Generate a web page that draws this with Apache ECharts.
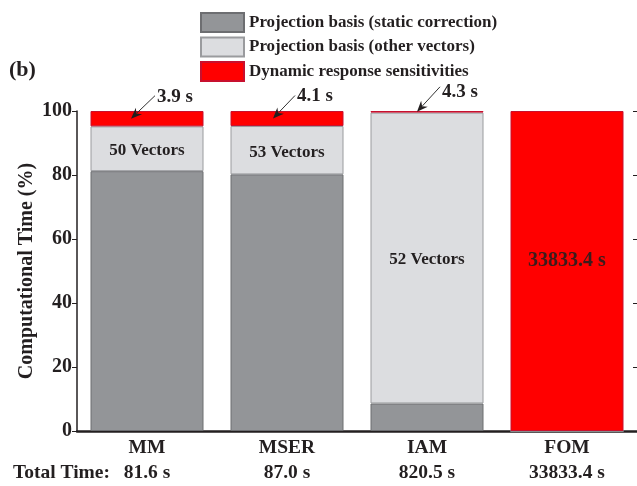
<!DOCTYPE html>
<html>
<head>
<meta charset="utf-8">
<script src="https://cdn.jsdelivr.net/npm/echarts@6/dist/echarts.min.js"></script>
<style>
  html, body { margin: 0; padding: 0; background: #fff; }
  #chart { width: 637px; height: 486px; }
</style>
</head>
<body>
<div id="chart"></div>
<script>
// Share of computational time per method (%)
const methods = ['MM', 'MSER', 'IAM', 'FOM'];
const totalTimes = ['81.6 s', '87.0 s', '820.5 s', '33833.4 s'];
const staticPct = [81.2, 80.2, 8.6, 0];
const otherPct = [14.0, 15.1, 90.9, 0];
const dynamicPct = [4.8, 4.7, 0.5, 100];
const vectorLabels = ['50 Vectors', '53 Vectors', '52 Vectors', ''];
const dynamicLabels = ['3.9 s', '4.1 s', '4.3 s', '33833.4 s'];
const yTicks = [0, 20, 40, 60, 80, 100];

const FONT = '"Liberation Serif", "Times New Roman", serif';
const INK = '#231f20';

const chart = echarts.init(document.getElementById('chart'), null, { renderer: 'canvas' });

const option = {
  animation: false,
  backgroundColor: '#ffffff',
  textStyle: { fontFamily: FONT, fontWeight: 'bold', color: INK },
  legend: {
    orient: 'vertical',
    left: 200,
    top: 12,
    padding: 0,
    icon: 'rect',
    itemWidth: 43,
    itemHeight: 19,
    itemGap: 3.5,
    textStyle: { fontFamily: FONT, fontWeight: 'bold', fontSize: 17, lineHeight: 19, color: INK },
    data: ['Projection basis (static correction)', 'Projection basis (other vectors)', 'Dynamic response sensitivities']
  },
  grid: { left: 77, top: 111, width: 562, height: 320, containLabel: false },
  xAxis: [
    {
      type: 'category',
      data: methods,
      position: 'bottom',
      axisLine: { lineStyle: { color: INK, width: 2.5 } },
      axisTick: { show: false },
      axisLabel: {
        margin: 4,
        interval: 0,
        formatter: function (v, i) { return '{n|' + v + '}\n{t|' + totalTimes[i] + '}'; },
        rich: {
          n: { fontFamily: FONT, fontWeight: 'bold', fontSize: 19.5, color: INK, lineHeight: 25 },
          t: { fontFamily: FONT, fontWeight: 'bold', fontSize: 19.5, color: INK, lineHeight: 25 }
        }
      }
    },
    {
      type: 'category',
      data: methods,
      position: 'top',
      axisLine: { lineStyle: { color: INK, width: 1.2 } },
      axisTick: { show: false },
      axisLabel: { show: false }
    }
  ],
  yAxis: [
    {
      type: 'value',
      min: yTicks[0],
      max: yTicks[yTicks.length - 1],
      interval: 20,
      position: 'left',
      name: 'Computational Time (%)',
      nameLocation: 'middle',
      nameGap: 40,
      nameMoveOverlap: false,
      nameTextStyle: { fontFamily: FONT, fontWeight: 'bold', fontSize: 20, color: INK },
      axisLine: { show: true, lineStyle: { color: INK, width: 1.5 } },
      axisTick: { show: true, length: 5, lineStyle: { color: INK, width: 1 } },
      axisLabel: { margin: 5, fontFamily: FONT, fontWeight: 'bold', fontSize: 20, color: INK },
      splitLine: { show: false }
    },
    {
      type: 'value',
      min: yTicks[0],
      max: yTicks[yTicks.length - 1],
      interval: 20,
      position: 'right',
      axisLine: { show: false },
      axisTick: { show: true, inside: true, length: 4, lineStyle: { color: INK, width: 1 } },
      axisLabel: { show: false },
      splitLine: { show: false }
    }
  ],
  series: [
    {
      name: 'Projection basis (static correction)',
      type: 'bar',
      stack: 'time',
      barWidth: 113,
      data: staticPct,
      itemStyle: { color: '#939598', borderColor: '#6d6e71', borderWidth: 1 }
    },
    {
      name: 'Projection basis (other vectors)',
      type: 'bar',
      stack: 'time',
      barWidth: 113,
      data: otherPct,
      itemStyle: { color: '#dcdde0', borderColor: '#9a9b9e', borderWidth: 1 },
      label: {
        show: true,
        position: 'inside',
        offset: [0, 2],
        formatter: function (p) { return vectorLabels[p.dataIndex]; },
        fontFamily: FONT, fontWeight: 'bold', fontSize: 17, color: INK
      }
    },
    {
      name: 'Dynamic response sensitivities',
      type: 'bar',
      stack: 'time',
      barWidth: 113,
      data: dynamicPct,
      itemStyle: { color: '#ff0000', borderColor: '#c8102e', borderWidth: 1 },
      label: {
        show: true,
        position: 'inside',
        offset: [0, -10],
        formatter: function (p) { return p.dataIndex === 3 ? dynamicLabels[3] : ''; },
        fontFamily: FONT, fontWeight: 'bold', fontSize: 20, color: '#3a1c1c'
      }
    }
  ]
};

chart.setOption(option);

// Callout arrows pointing at the thin dynamic-response segments
const callouts = [
  { idx: 0, value: 100 - dynamicPct[0] / 2, tipDx: -16, tail: [24, -23], textDy: 1 },
  { idx: 1, value: 100 - dynamicPct[1] / 2, tipDx: -14, tail: [22, -23], textDy: 1 },
  { idx: 2, value: 100 - dynamicPct[2] / 2, tipDx: -10, tail: [23, -25], textDy: 5 }
];

const graphics = [];
callouts.forEach(function (c) {
  const p = chart.convertToPixel({ xAxisIndex: 0, yAxisIndex: 0 }, [c.idx, c.value]);
  const tx = p[0] + c.tipDx, ty = p[1];
  const sx = tx + c.tail[0], sy = ty + c.tail[1];
  const ang = Math.atan2(ty - sy, tx - sx);
  const headLen = 11, headHalf = 4.5;
  const bx = tx - headLen * Math.cos(ang), by = ty - headLen * Math.sin(ang);
  const nx = -Math.sin(ang), ny = Math.cos(ang);
  graphics.push({
    type: 'line', z: 100,
    shape: { x1: sx, y1: sy, x2: bx + 3 * Math.cos(ang), y2: by + 3 * Math.sin(ang) },
    style: { stroke: '#333', lineWidth: 1 }
  });
  graphics.push({
    type: 'polygon', z: 100,
    shape: { points: [[tx, ty], [bx + nx * headHalf, by + ny * headHalf], [bx + 3.5 * Math.cos(ang), by + 3.5 * Math.sin(ang)], [bx - nx * headHalf, by - ny * headHalf]] },
    style: { fill: '#231f20' }
  });
  graphics.push({
    type: 'text', z: 100,
    x: sx + 2, y: sy + c.textDy,
    style: {
      text: dynamicLabels[c.idx], fontFamily: FONT, fontWeight: 'bold', fontSize: 19,
      fill: INK, verticalAlign: 'middle', align: 'left'
    }
  });
});

// Panel tag and the row caption for total times
graphics.push({
  type: 'text', x: 9, y: 70,
  style: { text: '(b)', fontFamily: FONT, fontWeight: 'bold', fontSize: 22, fill: INK, verticalAlign: 'middle' }
});
graphics.push({
  type: 'text', x: 110, y: 473,
  style: { text: 'Total Time:', fontFamily: FONT, fontWeight: 'bold', fontSize: 19.5, fill: INK, align: 'right', verticalAlign: 'middle' }
});

chart.setOption({ graphic: graphics });
</script>
</body>
</html>
